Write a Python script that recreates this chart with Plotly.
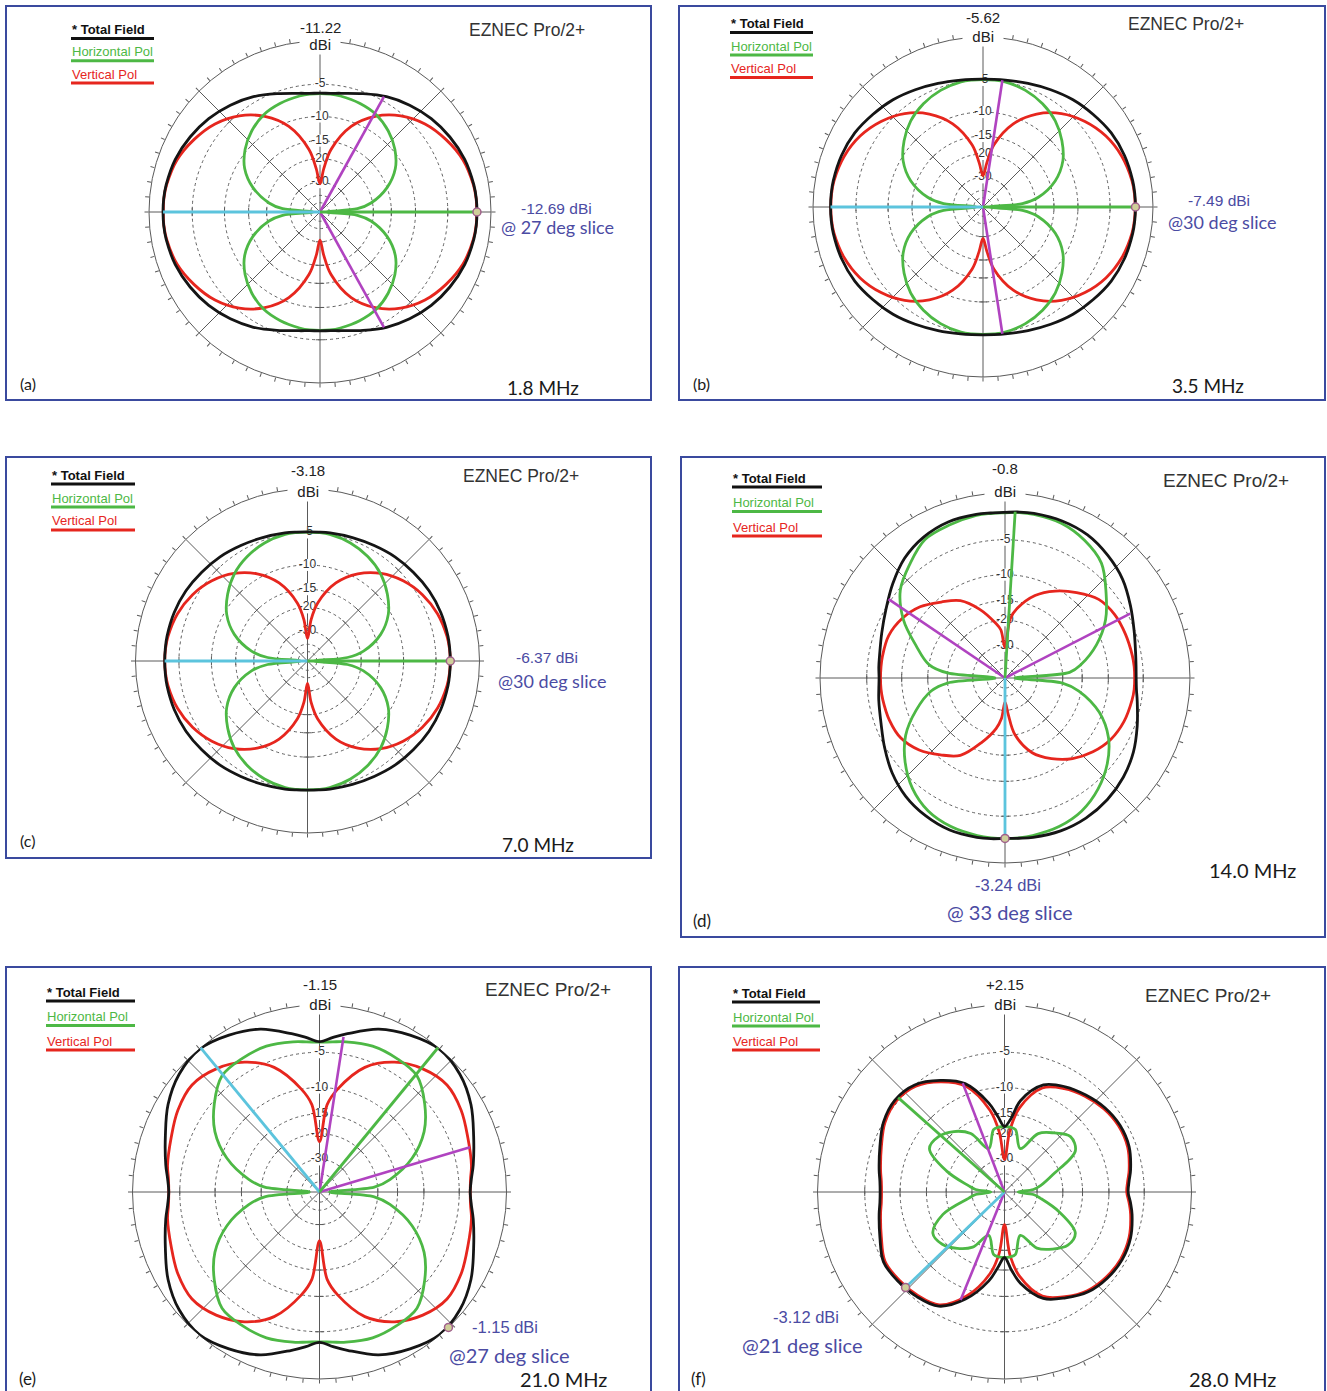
import plotly.graph_objects as go

W, H = 1327, 1391

# Azimuth sample grid in degrees (0 = right, counter-clockwise)
AZ = [0, 5, 10, 20, 30, 40, 50, 60, 70, 80, 85,
      90, 95, 100, 110, 120, 130, 140, 150, 160, 170, 175,
      180, 185, 190, 200, 210, 220, 230, 240, 250, 260, 265,
      270, 275, 280, 290, 300, 310, 320, 330, 340, 350, 355]

# Pattern levels in dB relative to the outer ring, one value per AZ entry
# (a) 1.8 MHz
A_TOTAL = [-1.47, -1.48, -1.55, -1.8, -2.25, -2.8, -3.5, -4.3, -5.25, -6.0, -6.2,
           -6.25, -6.2, -6.0, -5.25, -4.3, -3.5, -2.8, -2.25, -1.8, -1.55, -1.48,
           -1.47, -1.48, -1.55, -1.8, -2.25, -2.8, -3.5, -4.3, -5.25, -6.0, -6.2,
           -6.25, -6.2, -6.0, -5.25, -4.3, -3.5, -2.8, -2.25, -1.8, -1.55, -1.48]
A_HPOL = [-55, -26, -20.5, -15.0, -11.6, -9.6, -8.2, -7.2, -6.7, -6.4, -6.3,
          -6.3, -6.3, -6.4, -6.7, -7.2, -8.2, -9.6, -11.6, -15.0, -20.5, -26,
          -55, -26, -20.5, -15.0, -11.6, -9.6, -8.2, -7.2, -6.7, -6.4, -6.3,
          -6.3, -6.3, -6.4, -6.7, -7.2, -8.2, -9.6, -11.6, -15.0, -20.5, -26]
A_VPOL = [-1.5, -1.5, -1.6, -2.0, -2.8, -3.8, -5.3, -7.5, -10.8, -17.0, -23.5,
          -31, -23.5, -17.0, -10.8, -7.5, -5.3, -3.8, -2.8, -2.0, -1.6, -1.5,
          -1.5, -1.5, -1.6, -2.0, -2.8, -3.8, -5.3, -7.5, -10.8, -17.0, -23.5,
          -31, -23.5, -17.0, -10.8, -7.5, -5.3, -3.8, -2.8, -2.0, -1.6, -1.5]

# (b) 3.5 MHz
B_TOTAL = [-1.87, -1.88, -1.92, -2.08, -2.37, -2.86, -3.33, -3.9, -4.4, -4.75, -4.85,
           -4.9, -4.85, -4.75, -4.4, -3.9, -3.33, -2.86, -2.37, -2.08, -1.92, -1.88,
           -1.87, -1.88, -1.92, -2.08, -2.37, -2.86, -3.33, -3.9, -4.4, -4.75, -4.85,
           -4.9, -4.85, -4.75, -4.4, -3.9, -3.33, -2.86, -2.37, -2.08, -1.92, -1.88]
B_HPOL = [-55, -25, -19, -13.6, -10.5, -8.6, -7.1, -6.1, -5.4, -5.0, -4.95,
          -4.95, -4.95, -5.0, -5.4, -6.1, -7.1, -8.6, -10.5, -13.6, -19, -25,
          -55, -25, -19, -13.6, -10.5, -8.6, -7.1, -6.1, -5.4, -5.0, -4.95,
          -4.95, -4.95, -5.0, -5.4, -6.1, -7.1, -8.6, -10.5, -13.6, -19, -25]
B_VPOL = [-1.9, -1.92, -2.0, -2.4, -3.1, -4.2, -5.7, -7.9, -11.2, -17.0, -23.0,
          -29, -23.0, -17.0, -11.2, -7.9, -5.7, -4.2, -3.1, -2.4, -2.0, -1.92,
          -1.9, -1.92, -2.0, -2.4, -3.1, -4.2, -5.7, -7.9, -11.2, -17.0, -23.0,
          -29, -23.0, -17.0, -11.2, -7.9, -5.7, -4.2, -3.1, -2.4, -2.0, -1.92]

# (c) 7.0 MHz
C_TOTAL = [-3.19, -3.2, -3.21, -3.31, -3.49, -3.77, -4.03, -4.37, -4.63, -4.8, -4.88,
           -4.92, -4.88, -4.8, -4.63, -4.37, -4.03, -3.77, -3.49, -3.31, -3.21, -3.2,
           -3.19, -3.2, -3.21, -3.31, -3.49, -3.77, -4.03, -4.37, -4.63, -4.8, -4.88,
           -4.92, -4.88, -4.8, -4.63, -4.37, -4.03, -3.77, -3.49, -3.31, -3.21, -3.2]
C_HPOL = [-55, -25, -19, -13.6, -10.5, -8.6, -7.1, -6.1, -5.4, -5.0, -4.95,
          -4.95, -4.95, -5.0, -5.4, -6.1, -7.1, -8.6, -10.5, -13.6, -19, -25,
          -55, -25, -19, -13.6, -10.5, -8.6, -7.1, -6.1, -5.4, -5.0, -4.95,
          -4.95, -4.95, -5.0, -5.4, -6.1, -7.1, -8.6, -10.5, -13.6, -19, -25]
C_VPOL = [-3.2, -3.23, -3.33, -3.74, -4.45, -5.5, -7.0, -9.2, -12.5, -18.4, -24.4,
          -35, -24.4, -18.4, -12.5, -9.2, -7.0, -5.5, -4.45, -3.74, -3.33, -3.23,
          -3.2, -3.23, -3.33, -3.74, -4.45, -5.5, -7.0, -9.2, -12.5, -18.4, -24.4,
          -35, -24.4, -18.4, -12.5, -9.2, -7.0, -5.5, -4.45, -3.74, -3.33, -3.23]

# (d) 14.0 MHz
D_TOTAL = [-5.9, -5.85, -5.7, -5.1, -4.2, -3.2, -2.5, -1.95, -1.75, -1.75, -1.8,
           -1.9, -1.9, -1.85, -1.85, -2.2, -2.9, -4.0, -5.1, -5.9, -6.4, -6.5,
           -6.6, -6.5, -6.3, -5.8, -4.9, -3.9, -3.1, -2.6, -2.3, -2.3, -2.35,
           -2.44, -2.4, -2.3, -2.2, -2.3, -2.6, -3.1, -3.8, -4.7, -5.5, -5.8]
D_HPOL = [-50, -18, -15, -11, -8, -5.8, -3.6, -2.6, -2.0, -1.85, -1.85,
          -1.95, -1.95, -1.95, -2.2, -2.5, -3.8, -5.2, -7.8, -11.5, -15, -20,
          -50, -20, -15.5, -11.5, -8.2, -6.0, -4.3, -3.2, -2.7, -2.5, -2.45,
          -2.45, -2.45, -2.5, -2.7, -3.2, -4.2, -5.6, -7.5, -10.5, -15.5, -20]
D_VPOL = [-6.1, -6.1, -6.15, -6.3, -6.5, -7.1, -8.7, -10.5, -12.8, -16.5, -19.5,
          -31, -23, -20.5, -16, -12.5, -10.7, -8.8, -7.6, -6.9, -6.8, -6.8,
          -6.8, -6.8, -6.85, -7.0, -7.4, -8.6, -10.5, -12.5, -17, -22, -26,
          -35, -28, -20, -14.5, -11.8, -9.7, -8.2, -7.1, -6.5, -6.2, -6.1]

# (e) 21.0 MHz
E_TOTAL = [-3.7, -3.5, -3.1, -2.25, -1.15, -0.35, -0.05, -0.55, -1.3, -2.6, -3.2,
           -3.75, -3.2, -2.6, -1.3, -0.55, -0.05, -0.35, -1.15, -2.25, -3.1, -3.5,
           -3.7, -3.5, -3.1, -2.25, -1.15, -0.35, -0.05, -0.55, -1.3, -2.6, -3.2,
           -3.75, -3.2, -2.6, -1.3, -0.55, -0.05, -0.35, -1.15, -2.25, -3.1, -3.5]
E_HPOL = [-50, -21, -16.5, -11, -7.5, -5.3, -3.6, -3.3, -3.2, -3.5, -3.7,
          -3.8, -3.7, -3.5, -3.2, -3.3, -3.6, -5.3, -7.5, -11, -16.5, -21,
          -50, -21, -16.5, -11, -7.5, -5.3, -3.6, -3.3, -3.2, -3.5, -3.7,
          -3.8, -3.7, -3.5, -3.2, -3.3, -3.6, -5.3, -7.5, -11, -16.5, -21]
E_VPOL = [-3.7, -3.6, -3.3, -2.9, -2.3, -2.0, -2.6, -3.8, -5.9, -10.0, -13.0,
          -22.5, -13.0, -10.0, -5.9, -3.8, -2.6, -2.0, -2.3, -2.9, -3.3, -3.6,
          -3.7, -3.6, -3.3, -2.9, -2.3, -2.0, -2.6, -3.8, -5.9, -10.0, -13.0,
          -23, -13.0, -10.0, -5.9, -3.8, -2.6, -2.0, -2.3, -2.9, -3.3, -3.6]

# (f) 28.0 MHz
F_TOTAL = [-7.1, -6.9, -6.5, -5.9, -5.8, -6.1, -6.7, -7.4, -8.5, -12.0, -16.0,
           -18.0, -15.5, -12.5, -8.3, -6.4, -5.0, -4.6, -5.0, -5.9, -6.6, -6.9,
           -7.0, -6.9, -6.6, -5.9, -5.0, -5.1, -5.4, -6.0, -8.5, -12.5, -15.5,
           -18.0, -15.0, -12.0, -8.6, -7.3, -6.2, -5.7, -5.5, -5.7, -6.3, -6.7]
F_HPOL = [-45, -32, -28, -22, -14.2, -13.3, -15.2, -17.5, -24, -18.6, -18.1,
          -18.0, -18.1, -18.6, -24, -17.5, -14.8, -13.3, -13.2, -19, -28, -32,
          -45, -32, -28, -18, -14.0, -14.3, -16, -18.5, -24, -18.6, -18.1,
          -18.0, -18.1, -18.6, -24, -18.2, -15.8, -14.0, -14.2, -20, -28, -32]
F_VPOL = [-7.3, -7.1, -6.7, -6.1, -6.0, -6.3, -6.9, -7.7, -9.0, -13.5, -19.0,
          -30, -19.5, -14.0, -8.7, -6.6, -5.2, -4.8, -5.2, -6.1, -6.8, -7.1,
          -7.2, -7.1, -6.8, -6.1, -5.2, -5.3, -5.6, -6.2, -9.0, -14.0, -19.0,
          -30, -18.5, -13.5, -9.0, -7.5, -6.4, -5.9, -5.7, -5.9, -6.5, -6.9]

# Grid rings (dB) and the ones that carry a label
RING_DB = [-5, -10, -15, -20, -30, -40, -50]
RING_LABEL_DB = [-5, -10, -15, -20, -30]

PANEL_TAG = ["(a)", "(b)", "(c)", "(d)", "(e)", "(f)"]
FREQ_TEXT = ["1.8 MHz", "3.5 MHz", "7.0 MHz", "14.0 MHz", "21.0 MHz", "28.0 MHz"]
PEAK_DBI = [-11.22, -5.62, -3.18, -0.8, -1.15, 2.15]
CURSOR_DBI = [-12.69, -7.49, -6.37, -3.24, -1.15, -3.12]
CURSOR_AZ = [0, 0, 0, 270, 313.6, 224]
SLICE_TEXT = ["@ 27 deg slice", "@30 deg slice", "@30 deg slice",
              "@ 33 deg slice", "@27 deg slice", "@21 deg slice"]

# Direction lines: None means the line runs out to the cursor point
GREEN_AZ = [0, 0, 0, 86.5, 50.6, 138.4]
GREEN_DB = [None, None, None, -1.8, 0.0, -4.7]
CYAN_AZ = [180, 180, 180, 270, 129.5, 224]
CYAN_DB = [-1.47, -1.87, -3.19, None, 0.0, None]
PURPLE_AZ = [[61, 299], [81.3, 278.7], [], [27.2, 145.9], [16.6, 81.2], [111, 247.9]]
PURPLE_DB = [-4.45, -4.85, None, -4.7, -3.0, -8.1]

TOTALS = [A_TOTAL, B_TOTAL, C_TOTAL, D_TOTAL, E_TOTAL, F_TOTAL]
HPOLS = [A_HPOL, B_HPOL, C_HPOL, D_HPOL, E_HPOL, F_HPOL]
VPOLS = [A_VPOL, B_VPOL, C_VPOL, D_VPOL, E_VPOL, F_VPOL]

# ---- page geometry (pixels) ----
CX = [320, 983, 307.5, 1005, 319.5, 1004.5]
CY = [212, 207, 661, 678, 1192, 1192]
RAD = [171, 170, 172, 185, 187, 187]
BOX = [(6, 6, 651, 400), (679, 6, 1325, 400), (6, 457, 651, 858),
       (681, 457, 1325, 937), (6, 967, 651, 1402), (679, 967, 1325, 1402)]
BIG = [False, False, False, True, True, True]

LEG_X = [71, 730, 51, 732, 46, 732]
LEG_X2 = [154, 813, 135, 822, 135, 820]
LEG_Y = [29.5, 23.5, 475, 478, 992, 993]
LEG_STEP = [22.3, 22.5, 23, 24.5, 24.5, 24]

EZ_XY = [(527, 30), (1186, 24), (521, 476), (1226, 481), (548, 989), (1208, 995)]
PEAK_Y = [27, 18, 471, 469, 984, 984]
DBI_Y = [45, 37, 491, 491, 1004, 1004]
CUR_XY = [(556, 208), (1219, 200), (547, 657), (1008, 885), (505, 1327), (806, 1317)]
SLICE_XY = [(557, 227), (1222, 222), (552, 681), (1010, 912), (509, 1355), (802, 1345)]
FREQ_XY = [(543, 387), (1208, 385), (538, 844), (1252, 870), (563, 1379), (1232, 1379)]
TAG_XY = [(28, 383), (701, 383), (28, 840), (702, 920), (28, 1378), (698, 1378)]

C_BLACK = "#151515"
C_GREEN = "#4db845"
C_RED = "#e6261e"
C_CYAN = "#5cc4dd"
C_PURPLE = "#b043c0"
C_GRID = "#5a5a5a"
C_NOTE = "#4b4ba3"
C_BORDER = "#3a4a9e"
SANS = "Liberation Sans, Arial, sans-serif"
HUMAN = "Lato, Open Sans, sans-serif"


def arrl(db):
    """ARRL log scale: 0.89 of the radius for every 2 dB below the outer ring."""
    return 0.89 ** (-db / 2.0)


def fx(x):
    return x / W


def fy(y):
    return 1 - y / H


fig = go.Figure()
annotations = []
shapes = []


def text(x, y, s, size, color, family=SANS, anchor="center", bg=None, pad=0):
    annotations.append(dict(
        x=fx(x), y=fy(y), xref="paper", yref="paper", text=s, showarrow=False,
        xanchor=anchor, yanchor="middle", bgcolor=bg, borderpad=pad,
        font=dict(size=size, color=color, family=family)))


for i in range(6):
    sub = "polar" if i == 0 else "polar%d" % (i + 1)
    cx, cy, rr = CX[i], CY[i], RAD[i]
    fig.update_layout({sub: dict(
        domain=dict(x=[fx(cx - rr), fx(cx + rr)], y=[fy(cy + rr), fy(cy - rr)]),
        bgcolor="rgba(0,0,0,0)",
        radialaxis=dict(range=[0, 1], tickvals=[arrl(d) for d in RING_DB],
                        showticklabels=False, ticks="", showline=False,
                        gridcolor="#606060", griddash="dot", gridwidth=1,
                        layer="below traces"),
        angularaxis=dict(rotation=0, direction="counterclockwise",
                         tickmode="linear", tick0=0, dtick=5, ticks="outside",
                         ticklen=4, tickcolor=C_GRID, tickwidth=1,
                         showticklabels=False, showgrid=False, showline=True,
                         linecolor=C_GRID, linewidth=1, layer="below traces"),
    )})

    # spokes every 45 degrees; the horizontal axis and the lower half run past the rim
    sr, st = [], []
    for a in range(0, 360, 45):
        sr += [0, 1.03 if a in (0, 180, 270) else 1.0, None]
        st += [a, a, None]
    fig.add_trace(go.Scatterpolar(r=sr, theta=st, mode="lines", subplot=sub,
                                  line=dict(color=C_GRID, width=1), cliponaxis=False,
                                  hoverinfo="skip", showlegend=False))

    # small cross ticks where the rings meet each spoke
    tr, tt, ta = [], [], []
    for a in range(0, 360, 45):
        for d in RING_DB[:5]:
            if a == 90:
                continue
            tr.append(arrl(d))
            tt.append(a)
            ta.append(-a)
    fig.add_trace(go.Scatterpolar(r=tr, theta=tt, mode="markers", subplot=sub,
                                  marker=dict(symbol="line-ns", size=6, angle=ta,
                                              line=dict(color=C_GRID, width=1)),
                                  hoverinfo="skip", showlegend=False))

    # ring level labels along the upward axis
    fig.add_trace(go.Scatterpolar(
        r=[arrl(d) for d in RING_LABEL_DB], theta=[90] * len(RING_LABEL_DB),
        mode="markers+text", text=[str(d) for d in RING_LABEL_DB],
        textposition="middle center", subplot=sub,
        marker=dict(symbol="square", size=12, color="white"),
        textfont=dict(size=12, color="#333333", family=SANS),
        hoverinfo="skip", showlegend=False))

    theta_closed = AZ + [360]
    for series, color in ((VPOLS[i], C_RED), (HPOLS[i], C_GREEN), (TOTALS[i], C_BLACK)):
        rr_vals = [arrl(v) for v in series]
        fig.add_trace(go.Scatterpolar(
            r=rr_vals + [rr_vals[0]], theta=theta_closed, mode="lines", subplot=sub,
            line=dict(color=color, width=2.8, shape="spline", smoothing=1.0),
            hoverinfo="skip", showlegend=False))

    cursor_rel = CURSOR_DBI[i] - PEAK_DBI[i]

    if PURPLE_AZ[i]:
        pr, pt = [], []
        for a in PURPLE_AZ[i]:
            pr += [0, arrl(PURPLE_DB[i]), None]
            pt += [a, a, None]
        fig.add_trace(go.Scatterpolar(r=pr, theta=pt, mode="lines", subplot=sub,
                                      line=dict(color=C_PURPLE, width=2.6),
                                      hoverinfo="skip", showlegend=False))

    cyan_end = cursor_rel if CYAN_DB[i] is None else CYAN_DB[i]
    fig.add_trace(go.Scatterpolar(r=[0, arrl(cyan_end)], theta=[CYAN_AZ[i]] * 2,
                                  mode="lines", subplot=sub,
                                  line=dict(color=C_CYAN, width=2.8),
                                  hoverinfo="skip", showlegend=False))
    green_end = cursor_rel if GREEN_DB[i] is None else GREEN_DB[i]
    fig.add_trace(go.Scatterpolar(r=[0, arrl(green_end)], theta=[GREEN_AZ[i]] * 2,
                                  mode="lines", subplot=sub,
                                  line=dict(color=C_GREEN, width=2.8),
                                  hoverinfo="skip", showlegend=False))

    # cursor point on the pattern
    fig.add_trace(go.Scatterpolar(r=[arrl(cursor_rel)], theta=[CURSOR_AZ[i]],
                                  mode="markers", subplot=sub, cliponaxis=False,
                                  marker=dict(symbol="circle", size=8, color="#cfcf9a",
                                              line=dict(color="#a0608c", width=1.5)),
                                  hoverinfo="skip", showlegend=False))

    # panel frame
    x0, y0, x1, y1 = BOX[i]
    shapes.append(dict(type="rect", xref="paper", yref="paper",
                       x0=fx(x0), x1=fx(x1), y0=fy(y1), y1=fy(y0),
                       line=dict(color=C_BORDER, width=2), fillcolor="rgba(0,0,0,0)"))

    # legend block
    big = BIG[i]
    lsz = 13
    for k, (label, col, bold) in enumerate((("* Total Field", "#111111", True),
                                            ("Horizontal Pol", C_GREEN, False),
                                            ("Vertical Pol", C_RED, False))):
        ty = LEG_Y[i] + k * LEG_STEP[i]
        text(LEG_X[i], ty, "<b>%s</b>" % label if bold else label, lsz, col, anchor="left")
        shapes.append(dict(type="line", xref="paper", yref="paper",
                           x0=fx(LEG_X[i]), x1=fx(LEG_X2[i]),
                           y0=fy(ty + 9), y1=fy(ty + 9),
                           line=dict(color=col if k else "#111111", width=3)))

    text(EZ_XY[i][0], EZ_XY[i][1], "EZNEC Pro/2+", 19 if big else 17.5, "#333333")
    # "dBi" sits on the rim and breaks it; the peak value is written above it
    text(cx, DBI_Y[i], "&nbsp;&nbsp;dBi&nbsp;&nbsp;", 15, "#222222", bg="white", pad=1)
    text(cx, PEAK_Y[i], "%+g" % PEAK_DBI[i] if PEAK_DBI[i] > 0 else "%g" % PEAK_DBI[i],
         15, "#222222")
    text(CUR_XY[i][0], CUR_XY[i][1], "%.2f dBi" % CURSOR_DBI[i], 16.5 if big else 15.5, C_NOTE)
    text(SLICE_XY[i][0], SLICE_XY[i][1], SLICE_TEXT[i], 20 if big else 18, C_NOTE, family=HUMAN)
    text(FREQ_XY[i][0], FREQ_XY[i][1], FREQ_TEXT[i], 20 if big else 19, "#1a1a1a", family=HUMAN)
    text(TAG_XY[i][0], TAG_XY[i][1], PANEL_TAG[i], 17 if big else 16, "#1a1a1a", family=HUMAN)

fig.update_layout(width=W, height=H, margin=dict(l=0, r=0, t=0, b=0),
                  paper_bgcolor="white", plot_bgcolor="white", showlegend=False,
                  annotations=annotations, shapes=shapes)

fig.write_html("out.html")
